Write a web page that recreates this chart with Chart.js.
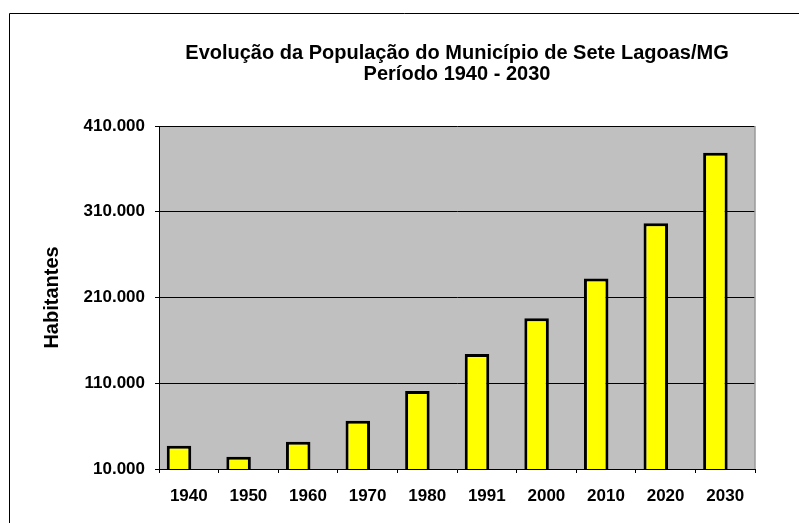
<!DOCTYPE html>
<html lang="pt-BR">
<head>
<meta charset="utf-8">
<title>Evolução da População - Sete Lagoas/MG</title>
<script src="https://cdn.jsdelivr.net/npm/chart.js@4.4.1/dist/chart.umd.min.js"></script>
<style>
  body { margin: 0; background: #fff; }
  #caixa { width: 799px; height: 523px; position: relative; }
</style>
</head>
<body>
<div id="caixa"><canvas id="grafico"></canvas></div>
<script>
// Dados
const anos = ['1940', '1950', '1960', '1970', '1980', '1991', '2000', '2010', '2020', '2030'];
const habitantes = [37200, 24300, 41800, 66300, 101000, 144100, 185700, 232300, 296500, 378800];
// a segunda série do Excel está vazia, mas ocupa o lugar ao lado de cada barra
const serieVazia = [null, null, null, null, null, null, null, null, null, null];
const marcasY = [10000, 110000, 210000, 310000, 410000];

const fonte = 'Arial, "Liberation Sans", sans-serif';

function formataMilhar(v) {
    return String(v).replace(/\B(?=(\d{3})+(?!\d))/g, '.');
}

// fundo cinza da área de plotagem + moldura externa
const fundoPlotagem = {
    id: 'fundoPlotagem',
    beforeDraw(chart) {
        const { ctx, chartArea: a } = chart;
        ctx.save();
        ctx.fillStyle = '#c0c0c0';
        ctx.fillRect(a.left, a.top, a.right - a.left, a.bottom - a.top);
        ctx.strokeStyle = '#000';
        ctx.lineWidth = 1;
        ctx.beginPath();
        ctx.moveTo(9.5, chart.height + 5);
        ctx.lineTo(9.5, 13.5);
        ctx.lineTo(chart.width + 5, 13.5);
        ctx.stroke();
        ctx.restore();
    },
    afterDatasetsDraw(chart) {
        const { ctx, chartArea: a } = chart;
        ctx.save();
        ctx.strokeStyle = '#9a9a9a';
        ctx.lineWidth = 1.5;
        ctx.beginPath();
        ctx.moveTo(a.right, a.top);
        ctx.lineTo(a.right, a.bottom);
        ctx.stroke();
        ctx.restore();
    }
};

const ctx = document.getElementById('grafico').getContext('2d');
new Chart(ctx, {
    type: 'bar',
    data: {
        labels: anos,
        datasets: [{
            label: 'Habitantes',
            data: habitantes,
            backgroundColor: '#ffff00',
            borderColor: '#000000',
            borderWidth: 3,
            categoryPercentage: 0.658,
            barPercentage: 1.25
        }, {
            label: 'vazia',
            data: serieVazia,
            categoryPercentage: 0.658,
            barPercentage: 1.25
        }]
    },
    options: {
        responsive: true,
        maintainAspectRatio: false,
        animation: false,
        layout: { padding: { top: 30, right: 44, bottom: 0, left: 0 } },
        plugins: {
            legend: { display: false },
            tooltip: { enabled: false },
            title: {
                display: true,
                fullSize: false,
                text: ['Evolução da População do Município de Sete Lagoas/MG', 'Período 1940 - 2030'],
                color: '#000',
                font: { family: fonte, size: 20, weight: 'bold', lineHeight: 1.05 },
                padding: { top: 12.5, bottom: 41.5 }
            }
        },
        scales: {
            x: {
                grid: {
                    drawOnChartArea: false,
                    drawTicks: true,
                    tickLength: 4,
                    color: '#000'
                },
                border: { color: '#000', width: 1 },
                ticks: {
                    color: '#000',
                    padding: 13,
                    maxRotation: 0,
                    font: { family: fonte, size: 17, weight: 'bold' }
                },
                afterFit(scale) { scale.height = 54; }
            },
            y: {
                min: 10000,
                max: 410000,
                grid: {
                    color: '#000',
                    lineWidth: 1,
                    tickLength: 4
                },
                border: { color: '#000', width: 1 },
                ticks: {
                    color: '#000',
                    padding: 10,
                    font: { family: fonte, size: 17, weight: 'bold' },
                    callback: v => formataMilhar(v)
                },
                afterBuildTicks(scale) {
                    scale.ticks = marcasY.map(v => ({ value: v }));
                },
                title: {
                    display: true,
                    text: 'Habitantes',
                    color: '#000',
                    font: { family: fonte, size: 20, weight: 'bold', lineHeight: 1.2 },
                    padding: { top: 40, bottom: 0 }
                },
                afterFit(scale) { scale.width = 159; }
            }
        }
    },
    plugins: [fundoPlotagem]
});
</script>
</body>
</html>
